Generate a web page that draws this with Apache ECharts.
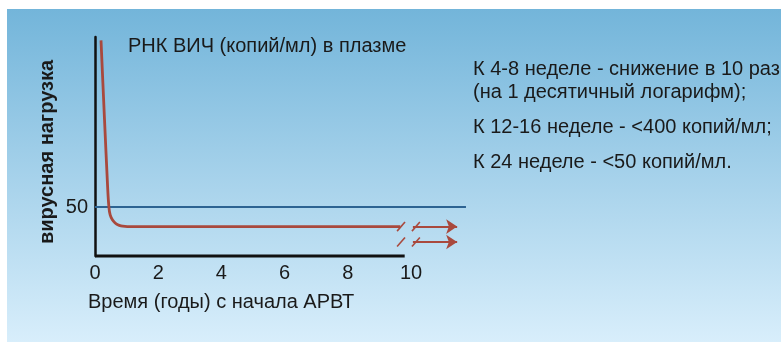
<!DOCTYPE html>
<html><head><meta charset="utf-8">
<script src="https://cdn.jsdelivr.net/npm/echarts@6/dist/echarts.min.js"></script>
<style>html,body{margin:0;padding:0;background:#fff}#c{width:781px;height:342px}</style>
</head><body><div id="c"></div>
<script>
// ---- data ----
const xTicks = [0, 2, 4, 6, 8, 10];
const yTickLabels = [50];
const thresholdY = 50;
const thresholdX = [0, 11.74];
// viral load curve (years, arbitrary units)
const curveX = [0.19, 0.30, 0.40, 0.44, 0.48, 0.55, 0.63, 0.72, 0.82, 0.95, 1.1, 3, 6, 9.66];
const curveY = [220, 140, 70, 50, 42, 37, 34, 32, 30.8, 30.2, 30, 30, 30, 30];
const arrowRowsY = [30, 14.3];
const arrowX = [10.06, 11.46];
const slashX = [[9.56, 9.81], [10.03, 10.28]];
const slashDY = 4.6;
const axisEndX = 9.8;
const title = 'РНК ВИЧ (копий/мл) в плазме';
const yName = 'вирусная нагрузка';
const xName = 'Время (годы) с начала АРВТ';
const notes = ['К 4-8 неделе - снижение в 10 раз', '(на 1 десятичный логарифм);', 'К 12-16 неделе - <400 копий/мл;', 'К 24 неделе - <50 копий/мл.'];

const RED = '#a9493d', BLUE = '#2d6392', FONT = '"Liberation Sans", Arial, sans-serif';
const chart = echarts.init(document.getElementById('c'));

const arrowLines = arrowRowsY.map(y => ({coords: [[arrowX[0], y], [arrowX[1], y]]}));
const slashLines = [];
arrowRowsY.forEach(y => slashX.forEach(s => slashLines.push({coords: [[s[0], y - slashDY], [s[1], y + slashDY]]})));

const txt = (left, top, text) => ({type: 'text', left, top, style: {text, font: '20px ' + FONT, fill: '#1a1a1a'}});

chart.setOption({
  animation: false,
  backgroundColor: '#fff',
  graphic: [
    {type: 'rect', left: 7, top: 9, shape: {width: 774, height: 333}, z: -10,
     style: {fill: new echarts.graphic.LinearGradient(0, 0, 0, 1, [{offset: 0, color: '#73b5da'}, {offset: 1, color: '#d8eefb'}])}},
    txt(128, 36, title),
    txt(473, 59, notes[0]),
    txt(473, 82, notes[1]),
    txt(473, 117, notes[2]),
    txt(473, 152, notes[3]),
    txt(88, 292, xName),
    {type: 'text', x: 47, y: 152, rotation: Math.PI / 2,
     style: {text: yName, font: 'bold 20px ' + FONT, fill: '#1a1a1a', align: 'center', verticalAlign: 'middle'}}
  ],
  grid: {left: 95, top: 37, width: 379.2, height: 219, containLabel: false},
  xAxis: {type: 'value', min: 0, max: 12, interval: 2,
    axisLine: {show: false}, axisTick: {show: false}, splitLine: {show: false},
    axisLabel: {margin: 7, fontSize: 20, fontFamily: FONT, color: '#1a1a1a',
      formatter: v => xTicks.indexOf(v) >= 0 ? String(v) : ''}},
  yAxis: {type: 'value', min: 0, max: 223.5, interval: 50,
    axisLine: {show: true, lineStyle: {color: '#111', width: 2.5}},
    axisTick: {show: false}, splitLine: {show: false},
    axisLabel: {margin: 7, fontSize: 20, fontFamily: FONT, color: '#1a1a1a',
      formatter: v => yTickLabels.indexOf(v) >= 0 ? String(v) : ''}},
  series: [
    {type: 'line', data: [[0, 0], [axisEndX, 0]], symbol: 'none', clip: false,
     lineStyle: {color: '#111', width: 3}, z: 3},
    {type: 'line', data: thresholdX.map(x => [x, thresholdY]), symbol: 'none', clip: false,
     lineStyle: {color: BLUE, width: 2.2}, z: 2},
    {type: 'line', data: curveX.map((x, i) => [x, curveY[i]]), symbol: 'none', smooth: 0.25, clip: false,
     lineStyle: {color: RED, width: 2.8}, z: 4},
    {type: 'lines', coordinateSystem: 'cartesian2d', data: arrowLines, symbol: ['none', 'arrow'], symbolSize: 11,
     lineStyle: {color: RED, width: 2, opacity: 1}, z: 4},
    {type: 'lines', coordinateSystem: 'cartesian2d', data: slashLines, symbol: 'none',
     lineStyle: {color: RED, width: 1.6, opacity: 1}, z: 4}
  ]
});
</script></body></html>
